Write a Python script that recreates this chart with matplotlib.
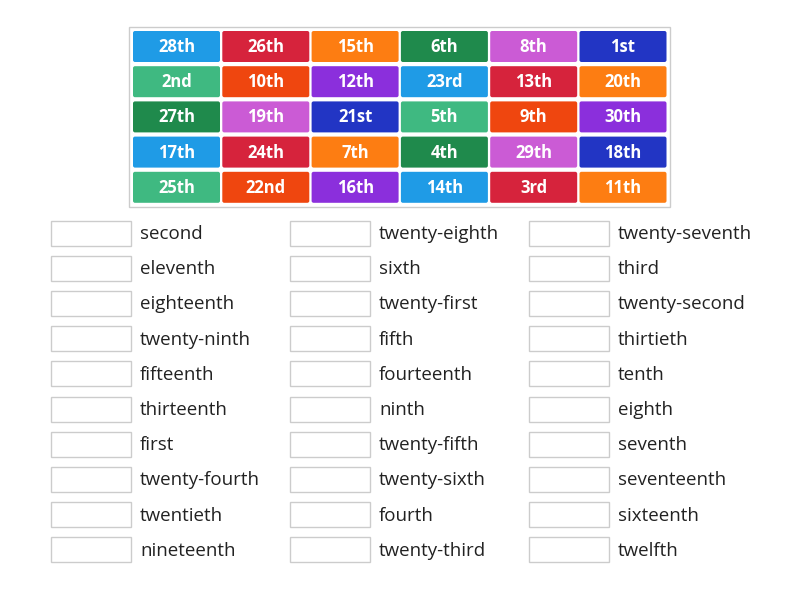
import matplotlib
matplotlib.use('Agg')
import matplotlib.pyplot as plt
from matplotlib.patches import FancyBboxPatch, Rectangle

tiles = [
    ['28th', '26th', '15th', '6th', '8th', '1st'],
    ['2nd', '10th', '12th', '23rd', '13th', '20th'],
    ['27th', '19th', '21st', '5th', '9th', '30th'],
    ['17th', '24th', '7th', '4th', '29th', '18th'],
    ['25th', '22nd', '16th', '14th', '3rd', '11th'],
]
palette = ['#1f9be6', '#d6233c', '#fd7d12', '#1f8a4c', '#cb5bd5',
           '#2235c4', '#3fb981', '#ef460f', '#8b2fdc']
words = [
    ['second', 'eleventh', 'eighteenth', 'twenty-ninth', 'fifteenth',
     'thirteenth', 'first', 'twenty-fourth', 'twentieth', 'nineteenth'],
    ['twenty-eighth', 'sixth', 'twenty-first', 'fifth', 'fourteenth',
     'ninth', 'twenty-fifth', 'twenty-sixth', 'fourth', 'twenty-third'],
    ['twenty-seventh', 'third', 'twenty-second', 'thirtieth', 'tenth',
     'eighth', 'seventh', 'seventeenth', 'sixteenth', 'twelfth'],
]

fig = plt.figure(figsize=(8, 6), dpi=100)
ax = fig.add_axes([0, 0, 1, 1])
ax.set_xlim(0, 800)
ax.set_ylim(600, 0)
ax.axis('off')

# tile frame
ax.add_patch(Rectangle((129, 27), 541, 180, facecolor='white',
                       edgecolor='#cccccc', linewidth=1))
for r, row in enumerate(tiles):
    for c, lab in enumerate(row):
        x = 133 + c * 89.3
        y = 31 + r * 35.2
        col = palette[(r * 6 + c) % 9]
        ax.add_patch(FancyBboxPatch((x, y), 87, 31, boxstyle='round,pad=0,rounding_size=2',
                                    facecolor=col, edgecolor='none'))
        ax.text(x + 43.5, y + 16, lab, ha='center', va='center', color='white',
                fontsize=12, fontweight='bold', family='Open Sans')

for k, col_words in enumerate(words):
    bx = 51 + k * 239
    for i, w in enumerate(col_words):
        cy = 233 + i * 35.2
        ax.add_patch(Rectangle((bx, cy - 12.5), 80, 25, facecolor='white',
                               edgecolor='#cccccc', linewidth=1))
        ax.text(bx + 89, cy + 1, w, ha='left', va='center', color='#222222',
                fontsize=13.5, family='Open Sans')

fig.savefig('out.png', dpi=100, facecolor='white')
